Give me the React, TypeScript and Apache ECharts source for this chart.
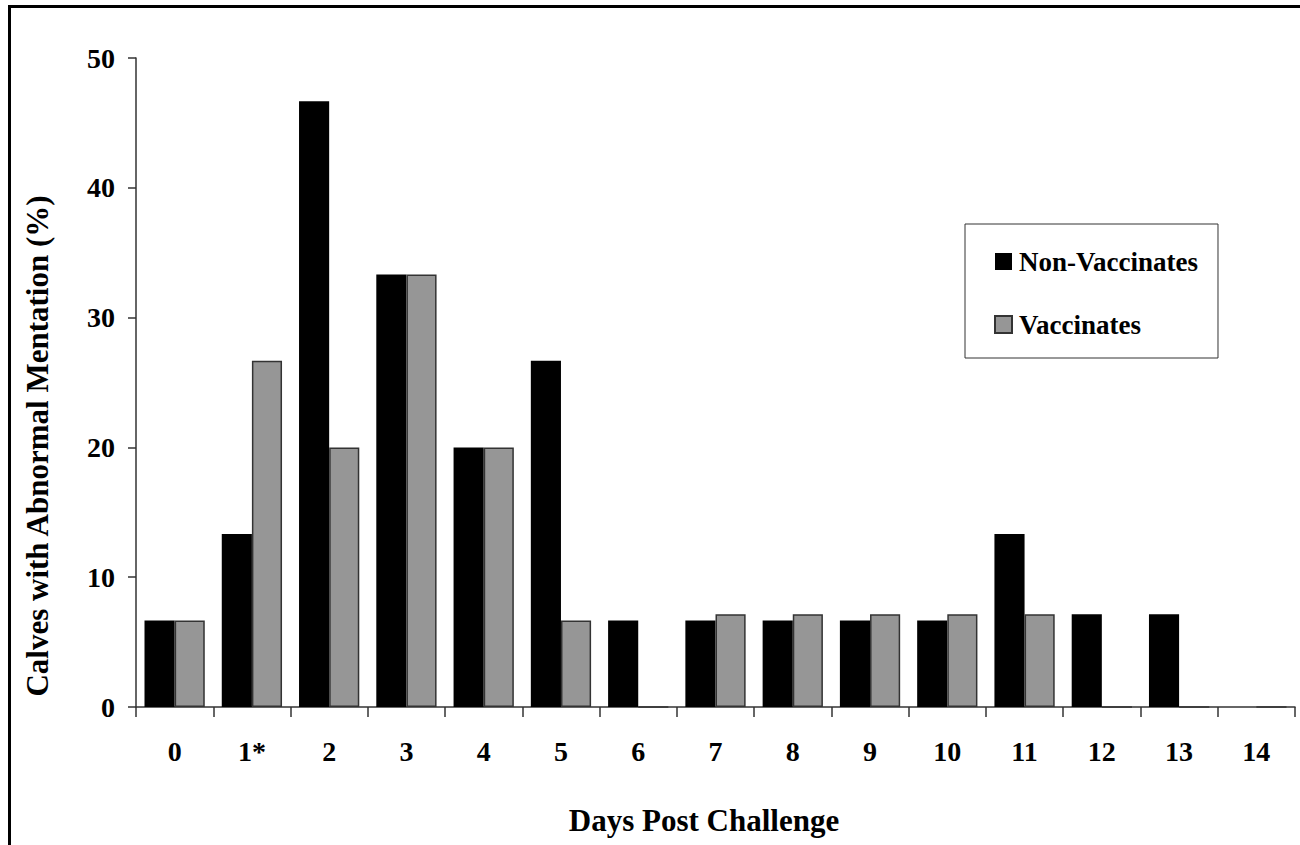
import React, { useEffect, useRef } from "react";
import * as echarts from "echarts";

const categories = ["0", "1*", "2", "3", "4", "5", "6", "7", "8", "9", "10", "11", "12", "13", "14"];
const nonVaccinates = [6.67, 13.33, 46.67, 33.33, 20, 26.67, 6.67, 6.67, 6.67, 6.67, 6.67, 13.33, 7.14, 7.14, 0];
const vaccinates = [6.67, 26.67, 20, 33.33, 20, 6.67, 0, 7.14, 7.14, 7.14, 7.14, 7.14, 0, 0, 0];
const yTicks = { min: 0, max: 50, interval: 10 };

const FONT = "'Liberation Serif', 'Times New Roman', serif";

export default function App() {
  const ref = useRef<HTMLDivElement>(null);
  useEffect(() => {
    if (!ref.current) return;
    const chart = echarts.init(ref.current, undefined, { renderer: "svg" });
    chart.setOption({
      animation: false,
      backgroundColor: "#fff",
      grid: { left: 136, right: 5, top: 58, bottom: 138, containLabel: false },
      legend: {
        orient: "vertical",
        left: 965,
        top: 224,
        padding: [24, 20, 20, 29],
        borderColor: "#333",
        borderWidth: 1,
        itemWidth: 17,
        itemHeight: 17,
        itemGap: 36,
        icon: "rect",
        textStyle: { fontFamily: FONT, fontWeight: "bold", fontSize: 27, color: "#000", padding: [0, 0, 0, 2] },
        data: ["Non-Vaccinates", "Vaccinates"],
      },
      xAxis: {
        type: "category",
        data: categories,
        axisLine: { lineStyle: { color: "#333", width: 1.5 } },
        axisTick: { show: true, length: 10, lineStyle: { color: "#333", width: 1.5 }, alignWithLabel: false },
        axisLabel: { interval: 0, margin: 30, fontFamily: FONT, fontWeight: "bold", fontSize: 28, color: "#000" },
        splitLine: { show: false },
      },
      yAxis: {
        type: "value",
        min: yTicks.min,
        max: yTicks.max,
        interval: yTicks.interval,
        axisLine: { show: true, lineStyle: { color: "#333", width: 1.5 } },
        axisTick: { show: true, length: 8, lineStyle: { color: "#333", width: 1.5 } },
        axisLabel: { margin: 21, fontFamily: FONT, fontWeight: "bold", fontSize: 28, color: "#000" },
        splitLine: { show: false },
      },
      series: [
        {
          name: "Non-Vaccinates",
          type: "bar",
          data: nonVaccinates,
          barGap: "0%",
          barCategoryGap: "22%",
          itemStyle: { color: "#000", borderWidth: 0 },
        },
        {
          name: "Vaccinates",
          type: "bar",
          data: vaccinates,
          barGap: "0%",
          barCategoryGap: "22%",
          itemStyle: { color: "#969696", borderColor: "#333", borderWidth: 1.5 },
        },
      ],
      graphic: [
        { type: "line", shape: { x1: 8, y1: 6.5, x2: 1300, y2: 6.5 }, style: { stroke: "#000", lineWidth: 3 } },
        { type: "line", shape: { x1: 9.5, y1: 5, x2: 9.5, y2: 845 }, style: { stroke: "#000", lineWidth: 3 } },
        {
          type: "text",
          x: 37,
          y: 446,
          rotation: Math.PI / 2,
          style: {
            text: "Calves with Abnormal Mentation (%)",
            fontFamily: FONT,
            fontWeight: "bold",
            fontSize: 31,
            fill: "#000",
            textAlign: "center",
            textVerticalAlign: "middle",
          },
        },
        {
          type: "text",
          x: 704,
          y: 820,
          style: {
            text: "Days Post Challenge",
            fontFamily: FONT,
            fontWeight: "bold",
            fontSize: 31,
            fill: "#000",
            textAlign: "center",
            textVerticalAlign: "middle",
          },
        },
      ],
    });
    return () => chart.dispose();
  }, []);
  return <div ref={ref} style={{ position: "absolute", left: 0, top: 0, width: 1300, height: 845 }} />;
}
